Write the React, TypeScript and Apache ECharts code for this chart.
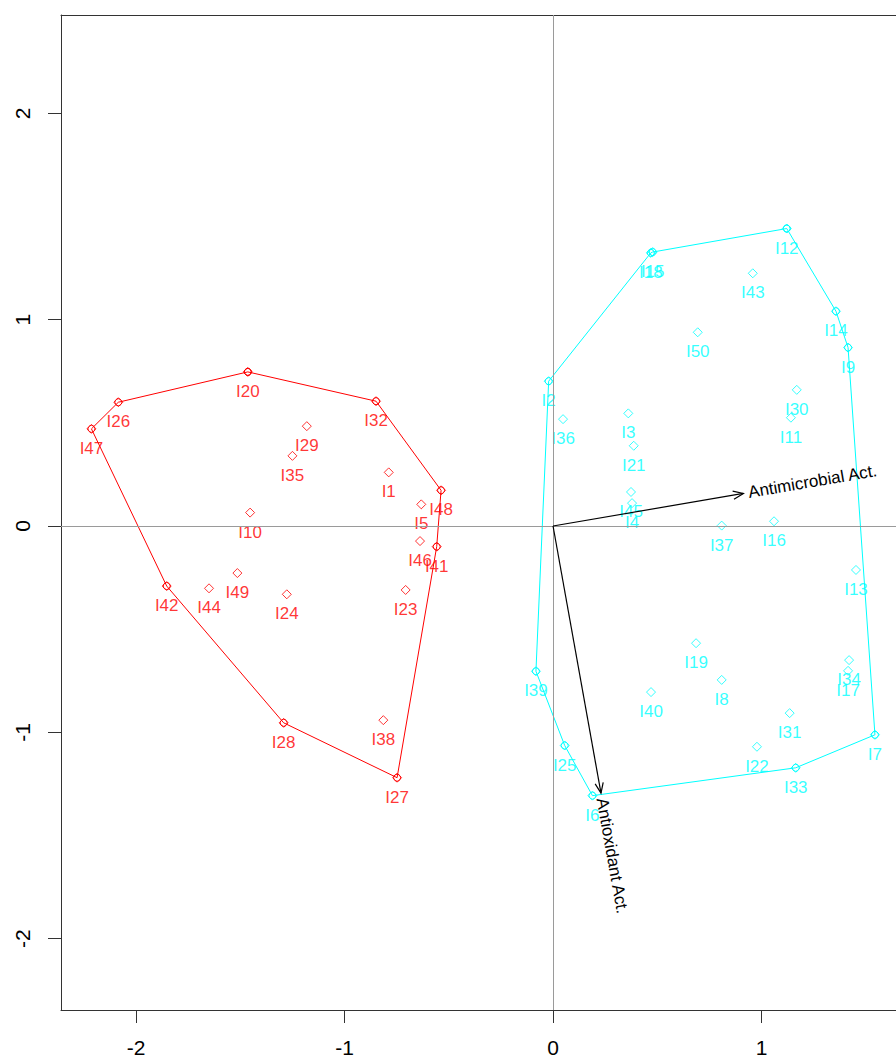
import React, { useEffect, useRef } from "react";
import * as echarts from "echarts";

// Group 1 (red)
const redNames = ["I1", "I5", "I10", "I20", "I23", "I24", "I26", "I27", "I28", "I29", "I32", "I35", "I38", "I41", "I42", "I44", "I46", "I47", "I48", "I49"];
const redX = [-0.788, -0.632, -1.453, -1.464, -0.707, -1.277, -2.085, -0.748, -1.292, -1.181, -0.849, -1.25, -0.814, -0.558, -1.853, -1.65, -0.638, -2.214, -0.537, -1.514];
const redY = [0.26, 0.105, 0.065, 0.747, -0.31, -0.331, 0.6, -1.22, -0.954, 0.484, 0.605, 0.34, -0.941, -0.1, -0.291, -0.302, -0.073, 0.471, 0.173, -0.228];
const redHull = ["I20", "I32", "I48", "I41", "I27", "I28", "I42", "I47", "I26", "I20"];

// Group 2 (cyan)
const cyanNames = ["I2", "I3", "I4", "I6", "I7", "I8", "I9", "I11", "I12", "I13", "I14", "I15", "I16", "I17", "I18", "I19", "I21", "I22", "I25", "I30", "I31", "I33", "I34", "I36", "I37", "I39", "I40", "I43", "I45", "I50"];
const cyanX = [-0.021, 0.361, 0.379, 0.189, 1.544, 0.809, 1.415, 1.141, 1.121, 1.453, 1.357, 0.478, 1.06, 1.415, 0.469, 0.686, 0.387, 0.978, 0.056, 1.169, 1.135, 1.164, 1.42, 0.048, 0.809, -0.082, 0.47, 0.958, 0.374, 0.694];
const cyanY = [0.702, 0.546, 0.111, -1.307, -1.012, -0.746, 0.865, 0.525, 1.442, -0.213, 1.041, 1.328, 0.023, -0.702, 1.324, -0.568, 0.389, -1.07, -1.064, 0.66, -0.907, -1.172, -0.65, 0.518, 0.002, -0.704, -0.805, 1.225, 0.165, 0.939];
const cyanHull = ["I12", "I14", "I9", "I7", "I33", "I6", "I25", "I39", "I2", "I18", "I15", "I12"];

// Variable arrows
const arrowNames = ["Antimicrobial Act.", "Antioxidant Act."];
const arrowX = [0.913, 0.23];
const arrowY = [0.158, -1.295];

// Axis ticks
const xTicks = [-2, -1, 0, 1];
const yTicks = [-2, -1, 0, 1, 2];

const RED = "#FF0000";
const CYAN = "#00FFFF";
const FONT = '"Liberation Sans", Arial, Helvetica, sans-serif';

function pts(names: string[], xs: number[], ys: number[]) {
  return names.map((n, i) => ({ name: n, value: [xs[i], ys[i]] }));
}
function hull(order: string[], names: string[], xs: number[], ys: number[]) {
  return order.map((n) => {
    const i = names.indexOf(n);
    return [xs[i], ys[i]];
  });
}

export default function App() {
  const ref = useRef<HTMLDivElement>(null);
  useEffect(() => {
    if (!ref.current) return;
    const chart = echarts.init(ref.current, undefined, { renderer: "svg" });
    const scatterSeries = (names: string[], xs: number[], ys: number[], color: string) => ({
      type: "scatter",
      data: pts(names, xs, ys),
      symbol: "diamond",
      symbolSize: 9,
      z: 4,
      itemStyle: { color: "rgba(0,0,0,0)", borderColor: color, borderWidth: 1 },
      label: {
        show: true,
        position: "bottom",
        distance: 6,
        formatter: (p: any) => p.name,
        color: color,
        fontSize: 17,
        fontFamily: FONT,
      },
      emphasis: { disabled: true },
    });
    const hullSeries = (data: number[][], color: string) => ({
      type: "line",
      data,
      symbol: "circle",
      symbolSize: 7,
      z: 3,
      lineStyle: { color, width: 1 },
      itemStyle: { color: "rgba(0,0,0,0)", borderColor: color, borderWidth: 1 },
      emphasis: { disabled: true },
    });
    const axisLineStyle = { color: "#333", width: 1 };
    chart.setOption({
      animation: false,
      grid: { left: 61, top: 15, bottom: 49, right: 0, show: false },
      xAxis: [
        {
          type: "value",
          min: -2.36,
          max: 1.645,
          axisLine: { show: true, onZero: false, lineStyle: axisLineStyle },
          axisTick: { show: true, length: 13, customValues: xTicks, lineStyle: axisLineStyle },
          axisLabel: { customValues: xTicks, margin: 27, fontSize: 21, color: "#000", fontFamily: FONT },
          splitLine: { show: false },
        },
        {
          type: "value",
          position: "top",
          min: -2.36,
          max: 1.645,
          axisLine: { show: true, onZero: false, lineStyle: axisLineStyle },
          axisTick: { show: false },
          axisLabel: { show: false },
          splitLine: { show: false },
        },
      ],
      yAxis: {
        type: "value",
        min: -2.346,
        max: 2.477,
        axisLine: { show: true, onZero: false, lineStyle: axisLineStyle },
        axisTick: { show: true, length: 13, customValues: yTicks, lineStyle: axisLineStyle },
        axisLabel: { customValues: yTicks, margin: 28, rotate: 90, fontSize: 21, color: "#000", fontFamily: FONT },
        splitLine: { show: false },
      },
      series: [
        {
          type: "scatter",
          data: [],
          z: 1,
          markLine: {
            silent: true,
            symbol: ["none", "none"],
            label: { show: false },
            lineStyle: { color: "#9a9a9a", width: 1, type: "solid" },
            data: [{ xAxis: 0 }, { yAxis: 0 }],
          },
        },
        hullSeries(hull(redHull, redNames, redX, redY), RED),
        hullSeries(hull(cyanHull, cyanNames, cyanX, cyanY), CYAN),
        scatterSeries(redNames, redX, redY, RED),
        scatterSeries(cyanNames, cyanX, cyanY, CYAN),
        {
          type: "custom",
          z: 5,
          data: arrowX.map((x, i) => [x, arrowY[i]]),
          encode: { x: 0, y: 1 },
          renderItem: (params: any, api: any) => {
            const s = api.coord([0, 0]);
            const e = api.coord([api.value(0), api.value(1)]);
            const ang = Math.atan2(e[1] - s[1], e[0] - s[0]);
            const L = 11;
            const a = 0.38;
            const p1 = [e[0] - L * Math.cos(ang - a), e[1] - L * Math.sin(ang - a)];
            const p2 = [e[0] - L * Math.cos(ang + a), e[1] - L * Math.sin(ang + a)];
            const off = 5;
            return {
              type: "group",
              children: [
                {
                  type: "line",
                  shape: { x1: s[0], y1: s[1], x2: e[0], y2: e[1] },
                  style: { stroke: "#000", lineWidth: 1.2 },
                },
                {
                  type: "polyline",
                  shape: { points: [p1, e, p2] },
                  style: { stroke: "#000", lineWidth: 1.2, fill: "none" },
                },
                {
                  type: "text",
                  x: e[0] + off * Math.cos(ang),
                  y: e[1] + off * Math.sin(ang),
                  rotation: -ang,
                  style: {
                    text: arrowNames[params.dataIndex],
                    fill: "#000",
                    fontSize: 17,
                    fontFamily: FONT,
                    align: "left",
                    verticalAlign: "middle",
                  },
                },
              ],
            };
          },
        },
      ],
    });
    return () => chart.dispose();
  }, []);
  return (
    <div
      ref={ref}
      style={{ position: "fixed", left: 0, top: 0, width: 896, height: 1059, background: "#fff" }}
    />
  );
}
